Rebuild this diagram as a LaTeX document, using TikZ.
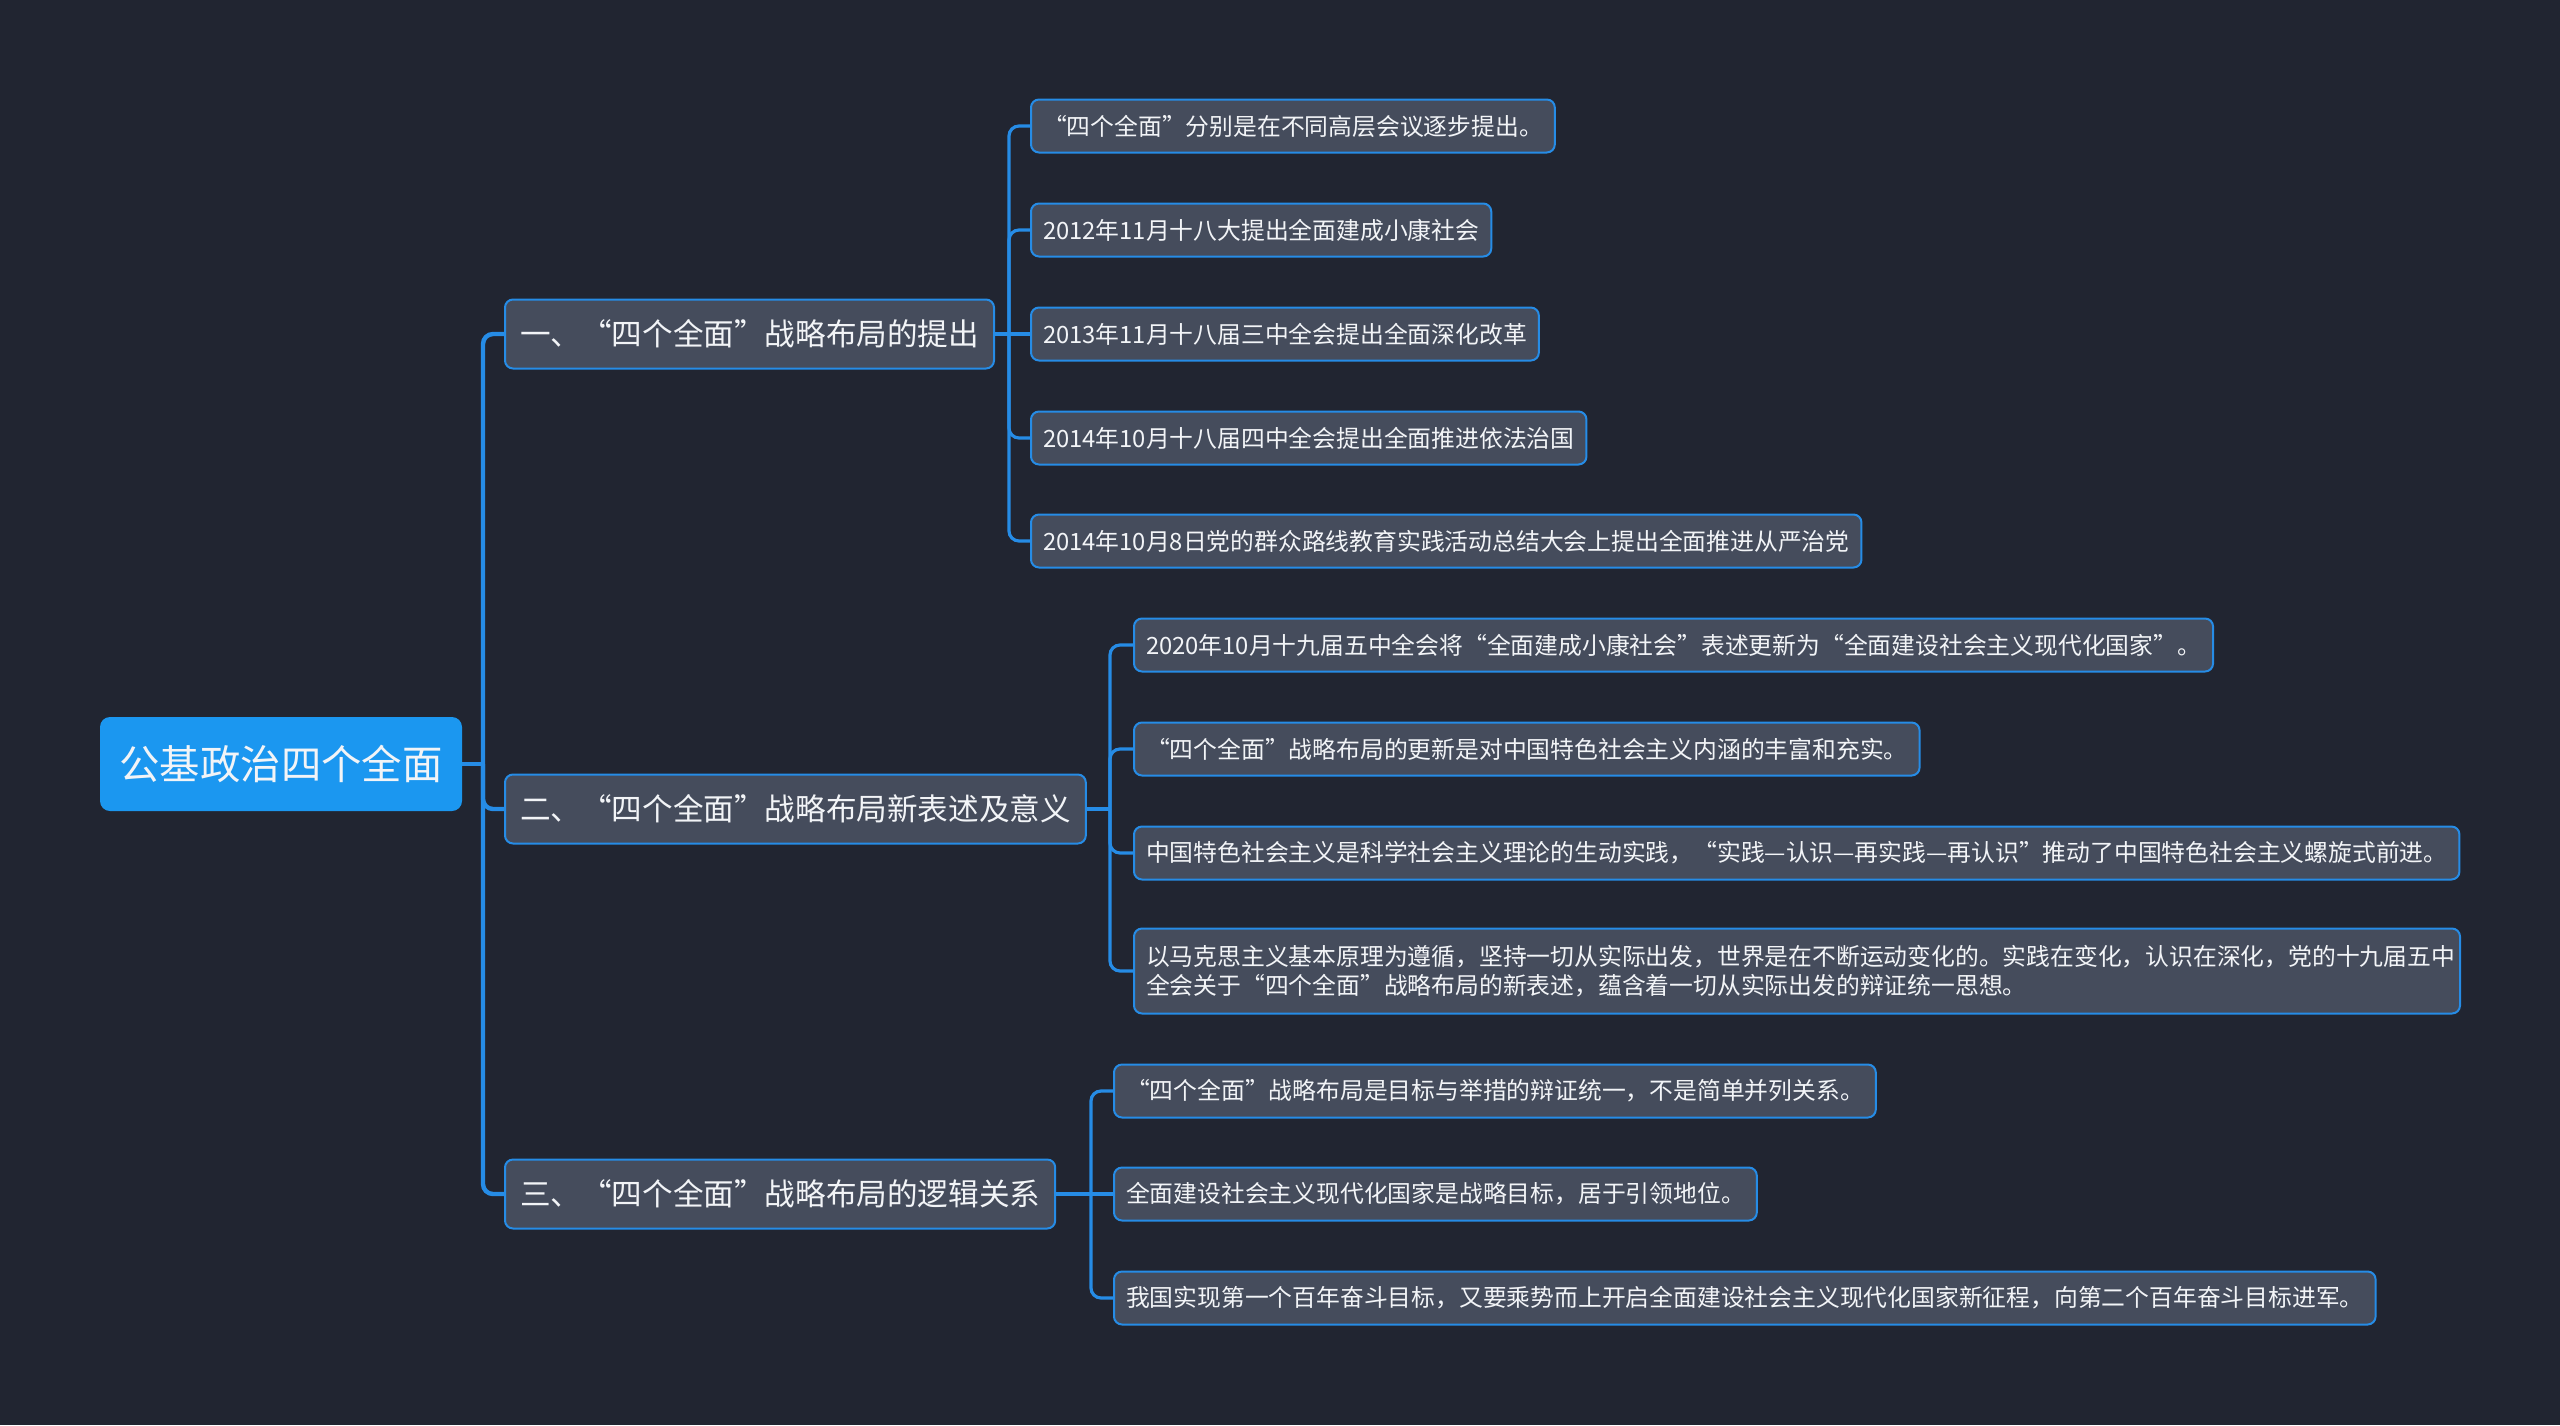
\documentclass[tikz,border=0pt]{standalone}
\usepackage{fontspec}
\setmainfont{Noto Sans CJK SC}
\definecolor{bgdark}{RGB}{33,37,49}
\definecolor{boxgray}{RGB}{69,76,92}
\definecolor{linkblue}{RGB}{38,140,230}
\definecolor{rootblue}{RGB}{27,151,240}
\definecolor{txt}{RGB}{242,244,247}
\begin{document}
\begin{tikzpicture}[x=0.5pt, y=-0.5pt,
  every node/.style={text=txt, font=\fontsize{11.9}{14.5}\selectfont},
  root/.style={fill=rootblue, rounded corners=5pt, minimum width=181pt, minimum height=47pt, font=\fontsize{20.2}{24}\selectfont},
  topic/.style={draw=linkblue, line width=1pt, fill=boxgray, rounded corners=4pt, anchor=west, minimum height=34.5pt, inner xsep=7.5pt, font=\fontsize{15.3}{18}\selectfont},
  leaf/.style={draw=linkblue, line width=1pt, fill=boxgray, rounded corners=4pt, anchor=west, minimum height=26.5pt, inner xsep=6pt},
  trunk/.style={draw=linkblue, line width=2.2pt, rounded corners=5pt},
  twig/.style={draw=linkblue, line width=1.6pt, rounded corners=5pt}]
  \fill[bgdark] (0,0) rectangle (2560,1425);
  % root and main topics
  \node[root] (root) at (281,764) {公基政治四个全面};
  \node[topic] (t1) at (504,334) {一、“四个全面”战略布局的提出};
  \node[topic] (t2) at (504,809) {二、“四个全面”战略布局新表述及意义};
  \node[topic] (t3) at (504,1194) {三、“四个全面”战略布局的逻辑关系};
  \coordinate (j0) at (483,764);
  \draw[trunk] (root.east) -- (j0);
  \draw[trunk] (j0) |- (t1.west); \draw[trunk] (j0) |- (t2.west); \draw[trunk] (j0) |- (t3.west);
  % topic 1
  \node[leaf] (a1) at (1030,126) {“四个全面”分别是在不同高层会议逐步提出。};
  \node[leaf] (a2) at (1030,230) {2012年11月十八大提出全面建成小康社会};
  \node[leaf] (a3) at (1030,334) {2013年11月十八届三中全会提出全面深化改革};
  \node[leaf] (a4) at (1030,438) {2014年10月十八届四中全会提出全面推进依法治国};
  \node[leaf] (a5) at (1030,541) {2014年10月8日党的群众路线教育实践活动总结大会上提出全面推进从严治党};
  \coordinate (j1) at (1009,334);
  \draw[twig] (t1.east) -- (j1);
  \draw[twig] (j1) |- (a1.west); \draw[twig] (j1) |- (a2.west); \draw[twig] (j1) -- (a3.west);
  \draw[twig] (j1) |- (a4.west); \draw[twig] (j1) |- (a5.west);
  % topic 2
  \node[leaf] (b1) at (1133,645) {2020年10月十九届五中全会将“全面建成小康社会”表述更新为“全面建设社会主义现代化国家”。};
  \node[leaf] (b2) at (1133,749) {“四个全面”战略布局的更新是对中国特色社会主义内涵的丰富和充实。};
  \node[leaf] (b3) at (1133,853) {中国特色社会主义是科学社会主义理论的生动实践，“实践—认识—再实践—再认识”推动了中国特色社会主义螺旋式前进。};
  \node[leaf, minimum height=42.5pt, text width=651pt, align=left] (b4) at (1133,971) {以马克思主义基本原理为遵循，坚持一切从实际出发，世界是在不断运动变化的。实践在变化，认识在深化，党的十九届五中\\全会关于“四个全面”战略布局的新表述，蕴含着一切从实际出发的辩证统一思想。};
  \coordinate (j2) at (1110,809);
  \draw[twig] (t2.east) -- (j2);
  \draw[twig] (j2) |- (b1.west); \draw[twig] (j2) |- (b2.west); \draw[twig] (j2) |- (b3.west); \draw[twig] (j2) |- (b4.west);
  % topic 3
  \node[leaf] (c1) at (1113,1091) {“四个全面”战略布局是目标与举措的辩证统一，不是简单并列关系。};
  \node[leaf] (c2) at (1113,1194) {全面建设社会主义现代化国家是战略目标，居于引领地位。};
  \node[leaf] (c3) at (1113,1298) {我国实现第一个百年奋斗目标，又要乘势而上开启全面建设社会主义现代化国家新征程，向第二个百年奋斗目标进军。};
  \coordinate (j3) at (1091,1194);
  \draw[twig] (t3.east) -- (j3);
  \draw[twig] (j3) |- (c1.west); \draw[twig] (j3) -- (c2.west); \draw[twig] (j3) |- (c3.west);
\end{tikzpicture}
\end{document}
